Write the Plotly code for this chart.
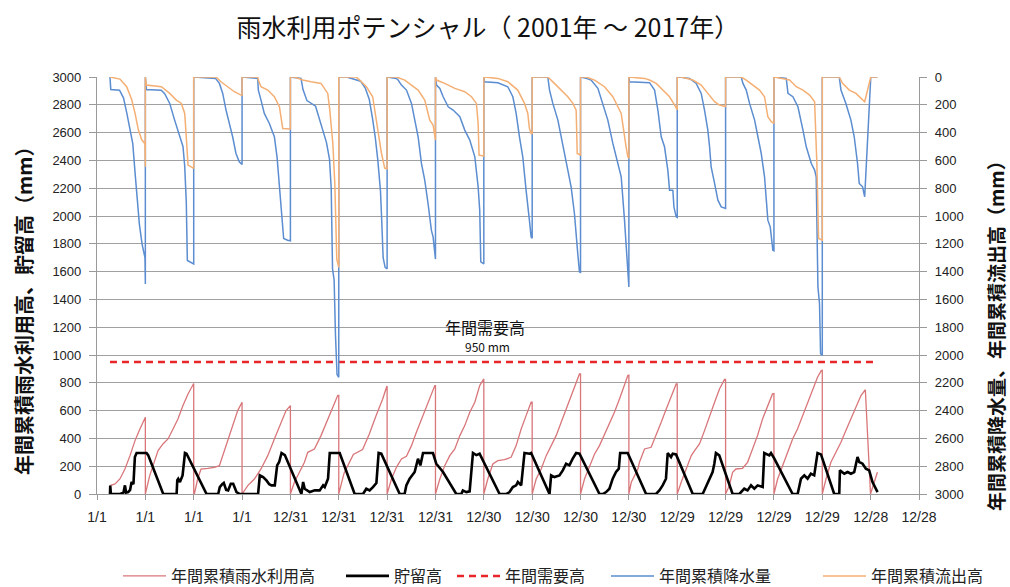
import datetime as dt
import plotly.graph_objects as go

# ---------------- data ----------------
BASE = dt.date(2001, 1, 1)
CYCLE_DAYS = 365          # each plotted year cycle / axis tick step
N_TICKS = 18

tick_labels = ["1/1", "1/1", "1/1", "1/1", "12/31", "12/31", "12/31", "12/31",
               "12/30", "12/30", "12/30", "12/30", "12/29", "12/29", "12/29", "12/29",
               "12/28", "12/28"]

# 年間累積降水量 (right axis, mm) : day-in-cycle / value per cycle
rain_days = [
    [98, 104, 170, 200, 225, 250, 270, 290, 305, 320, 340, 355, 362, 365],
    [0, 8, 120, 146, 184, 221, 259, 284, 297, 309, 317, 347, 365],
    [0, 165, 194, 219, 244, 269, 294, 319, 344, 365],
    [0, 118, 123, 143, 168, 206, 244, 264, 282, 299, 314, 344, 365],
    [0, 80, 95, 125, 190, 235, 272, 295, 308, 318, 330, 340, 352, 365],
    [0, 60, 165, 200, 230, 255, 275, 295, 315, 325, 335, 350, 365],
    [0, 70, 83, 108, 146, 184, 209, 234, 259, 284, 309, 334, 347, 360, 365],
    [0, 8, 33, 58, 96, 133, 184, 221, 259, 297, 322, 334, 342, 360, 365],
    [0, 5, 106, 181, 219, 244, 269, 294, 319, 332, 344, 357, 365],
    [0, 118, 131, 156, 194, 231, 269, 294, 319, 344, 357, 365],
    [0, 43, 80, 131, 168, 206, 244, 282, 307, 332, 352, 362, 365],
    [0, 5, 156, 194, 219, 244, 269, 294, 307, 332, 340, 357, 365],
    [0, 30, 93, 143, 181, 206, 231, 244, 256, 282, 307, 332, 357, 365],
    [0, 118, 131, 156, 181, 219, 244, 269, 294, 307, 319, 337, 357, 365],
    [0, 5, 93, 106, 143, 181, 219, 244, 282, 307, 319, 332, 344, 352, 365],
    [0, 128, 141, 178, 216, 241, 266, 279, 304, 320, 366, 416],
]
rain_vals = [
    [0, 90, 95, 150, 260, 380, 480, 720, 880, 1060, 1200, 1260, 1300, 1490],
    [0, 90, 95, 120, 190, 310, 430, 500, 640, 900, 1320, 1335, 1345],
    [0, 10, 46, 118, 238, 334, 430, 550, 610, 630],
    [0, 10, 94, 166, 262, 334, 430, 574, 790, 958, 1162, 1174, 1178],
    [0, 10, 90, 170, 210, 350, 470, 590, 800, 1380, 1460, 1850, 2140, 2160],
    [0, 0, 30, 80, 160, 300, 430, 600, 820, 1050, 1300, 1370, 1380],
    [0, 10, 22, 58, 94, 190, 310, 430, 622, 742, 910, 1102, 1150, 1306, 1310],
    [0, 58, 82, 142, 214, 238, 286, 382, 454, 574, 790, 958, 1330, 1342, 1345],
    [0, 34, 41, 70, 142, 262, 430, 574, 814, 958, 1030, 1150, 1160],
    [0, 0, 94, 190, 310, 502, 670, 790, 982, 1270, 1402, 1405],
    [0, 10, 22, 82, 190, 310, 478, 622, 718, 1030, 1318, 1500, 1510],
    [0, 34, 41, 94, 238, 430, 502, 670, 814, 814, 934, 1006, 1010],
    [0, 2, 10, 46, 118, 238, 382, 502, 646, 766, 886, 934, 946, 946],
    [0, 0, 46, 94, 190, 310, 430, 550, 718, 862, 1030, 1078, 1246, 1250],
    [0, 0, 10, 118, 142, 214, 382, 502, 622, 670, 718, 1510, 1630, 1990, 2002],
    [0, 0, 94, 190, 310, 430, 622, 766, 790, 862, 0, 0],
]

# 年間累積流出高 (right axis, mm)
runoff_days = [
    [98, 173, 224, 261, 287, 312, 337, 354, 362, 365],
    [0, 8, 121, 184, 234, 272, 297, 309, 322, 365],
    [0, 168, 206, 256, 307, 357, 365],
    [0, 118, 123, 143, 194, 244, 282, 307, 365],
    [0, 30, 93, 156, 231, 282, 297, 320, 335, 350, 365],
    [0, 130, 158, 209, 256, 294, 322, 347, 365],
    [0, 70, 133, 184, 234, 284, 322, 347, 360, 365],
    [0, 8, 70, 146, 221, 272, 309, 322, 329, 360, 365],
    [0, 5, 106, 181, 256, 307, 332, 344, 357, 365],
    [0, 118, 168, 219, 269, 307, 332, 340, 357, 365],
    [0, 43, 106, 181, 244, 307, 344, 357, 365],
    [0, 118, 156, 206, 257, 307, 345, 362, 365],
    [0, 30, 118, 181, 231, 282, 319, 357, 365],
    [0, 118, 156, 206, 256, 294, 319, 345, 365],
    [0, 5, 118, 168, 219, 269, 307, 324, 337, 365],
    [0, 128, 153, 204, 254, 292, 320, 366, 416],
]
runoff_vals = [
    [0, 15, 70, 160, 260, 380, 450, 477, 480, 646],
    [0, 58, 70, 118, 166, 190, 262, 430, 634, 658],
    [0, 0, 34, 70, 106, 130, 130],
    [0, 0, 22, 70, 94, 142, 214, 370, 374],
    [0, 0, 22, 34, 46, 118, 237, 475, 762, 1310, 1370],
    [0, 0, 22, 70, 142, 357, 547, 655, 660],
    [0, 0, 22, 58, 94, 166, 310, 346, 454, 454],
    [0, 22, 46, 82, 106, 142, 190, 334, 562, 569, 569],
    [0, 0, 10, 34, 94, 190, 262, 370, 406, 406],
    [0, 0, 46, 94, 142, 190, 238, 550, 561, 561],
    [0, 0, 22, 70, 142, 262, 502, 574, 585],
    [0, 10, 22, 46, 94, 142, 202, 233, 235],
    [0, 0, 22, 58, 118, 178, 202, 209, 212],
    [0, 0, 22, 58, 94, 142, 286, 322, 334],
    [0, 0, 22, 70, 94, 130, 178, 622, 1162, 1174],
    [0, 0, 46, 94, 118, 154, 178, 0, 0],
]

# 年間累積雨水利用高 (left axis, mm)
use_days = [
    [98, 136, 173, 211, 249, 287, 324, 362, 365],
    [0, 33, 58, 96, 133, 171, 209, 246, 284, 322, 365],
    [0, 5, 30, 55, 106, 156, 194, 219, 256, 294, 332, 365],
    [0, 43, 93, 143, 194, 244, 294, 332, 365],
    [0, 30, 68, 106, 131, 181, 231, 282, 332, 357, 365],
    [0, 40, 80, 110, 180, 230, 280, 330, 362, 365],
    [0, 33, 70, 108, 146, 184, 221, 259, 297, 334, 360, 365],
    [0, 33, 70, 108, 146, 184, 221, 259, 297, 334, 360, 365],
    [0, 30, 68, 106, 156, 206, 244, 282, 319, 357, 365],
    [0, 30, 68, 106, 143, 181, 219, 256, 294, 332, 357, 365],
    [0, 30, 68, 106, 143, 181, 219, 256, 294, 332, 357, 365],
    [0, 18, 68, 80, 118, 168, 206, 244, 282, 319, 357, 365],
    [0, 30, 68, 106, 131, 168, 206, 244, 282, 319, 357, 365],
    [0, 28, 53, 78, 128, 166, 204, 241, 279, 317, 354, 365],
    [0, 28, 65, 103, 141, 178, 216, 254, 292, 329, 357, 365],
    [0, 28, 65, 103, 141, 178, 216, 254, 292, 325, 364, 416],
]
use_vals = [
    [60, 72, 108, 180, 276, 384, 468, 552, 552],
    [0, 132, 204, 312, 360, 396, 468, 540, 636, 720, 795],
    [0, 0, 108, 180, 185, 192, 204, 276, 372, 492, 600, 660],
    [0, 60, 108, 180, 276, 396, 516, 600, 636],
    [0, 84, 156, 228, 300, 324, 420, 540, 660, 708, 710],
    [0, 150, 230, 285, 320, 430, 560, 680, 772, 775],
    [0, 108, 192, 252, 271, 348, 444, 540, 636, 720, 780, 780],
    [0, 108, 204, 276, 324, 420, 492, 588, 660, 780, 828, 828],
    [0, 108, 216, 240, 247, 264, 348, 468, 564, 660, 660],
    [0, 108, 180, 276, 348, 420, 516, 612, 708, 804, 864, 864],
    [0, 108, 204, 288, 348, 432, 504, 588, 684, 780, 852, 855],
    [0, 84, 180, 228, 324, 336, 420, 516, 612, 696, 792, 792],
    [0, 84, 180, 276, 312, 360, 456, 564, 660, 756, 825, 825],
    [0, 60, 156, 180, 185, 228, 324, 420, 540, 636, 720, 722],
    [0, 108, 204, 300, 396, 468, 564, 660, 756, 840, 888, 890],
    [0, 108, 228, 300, 372, 456, 540, 636, 708, 750, 0, 156],
]

# 貯留高 (left axis, mm) : days since 2001-01-01 / value
storage_days = [
    98, 100, 105, 173, 200, 211, 220, 236, 250, 261, 275, 286, 299, 374, 387, 500,
    601, 606, 613, 626, 646, 664, 676, 827,
    915, 927, 945, 957, 975, 990, 1010, 1028, 1053, 1078,
    1216, 1229, 1254, 1279, 1300, 1317, 1342, 1360, 1375, 1393, 1418, 1543,
    1556, 1568, 1606, 1644, 1681, 1707, 1719, 1744, 1757, 1832, 1945,
    2008, 2033, 2058, 2083, 2109, 2126, 2146, 2285,
    2322, 2335, 2360, 2398, 2423, 2441, 2461, 2536, 2561, 2612, 2712,
    2750, 2762, 2788, 2813, 2838, 2863, 2888, 3039,
    3089, 3114, 3139, 3164, 3177, 3202, 3227, 3265, 3277, 3416,
    3428, 3453, 3491, 3516, 3541, 3566, 3591, 3617, 3642, 3793,
    3818, 3843, 3868, 3893, 3918, 3939, 3949, 4006, 4145,
    4220, 4245, 4270, 4295, 4308, 4333, 4346, 4371, 4497,
    4572, 4597, 4622, 4647, 4660, 4672, 4697, 4798,
    4849, 4861, 4886, 4911, 4937, 4962, 4987, 5025, 5037, 5075, 5088, 5113, 5251,
    5289, 5314, 5339, 5364, 5389, 5414, 5439, 5465, 5565,
    5603, 5608, 5641, 5666, 5691, 5716, 5741, 5754, 5779, 5804, 5829, 5854, 5892,
]
storage_vals = [
    0, 60, 0, 0, 10, 62, 10, 14, 30, 86, 70, 266, 295, 295, 278, 0,
    0, 100, 110, 86, 134, 295, 290, 0,
    0, 50, 70, 79, 30, 26, 74, 74, 14, 0,
    0, 134, 122, 98, 70, 62, 62, 206, 230, 295, 280, 0,
    86, 38, 14, 26, 26, 62, 50, 110, 295, 295, 0,
    0, 38, 26, 50, 79, 295, 290, 0,
    0, 62, 110, 158, 254, 206, 295, 295, 218, 158, 0,
    0, 26, 14, 19, 295, 280, 290, 0,
    0, 14, 50, 62, 86, 62, 295, 290, 295, 0,
    134, 122, 134, 170, 218, 206, 254, 295, 290, 0,
    0, 14, 38, 110, 158, 182, 295, 295, 0,
    0, 26, 62, 110, 295, 266, 290, 285, 0,
    0, 50, 110, 158, 218, 295, 278, 0,
    0, 14, 38, 26, 62, 38, 62, 50, 295, 278, 295, 254, 0,
    0, 110, 134, 110, 146, 134, 295, 285, 0,
    0, 170, 146, 158, 146, 158, 266, 230, 218, 182, 170, 86, 14,
]

annual_demand = 950  # 年間需要高 (mm)

series_names = ["年間累積雨水利用高", "貯留高", "年間需要高", "年間累積降水量", "年間累積流出高"]

# ---------------- build series ----------------
def cycle_series(days_list, vals_list):
    xs, ys = [], []
    for k, (ds, vs) in enumerate(zip(days_list, vals_list)):
        for d, v in zip(ds, vs):
            xs.append(BASE + dt.timedelta(days=k * CYCLE_DAYS + d))
            ys.append(v)
    return xs, ys

rain_x, rain_y = cycle_series(rain_days, rain_vals)
runoff_x, runoff_y = cycle_series(runoff_days, runoff_vals)
use_x, use_y = cycle_series(use_days, use_vals)
stor_x = [BASE + dt.timedelta(days=d) for d in storage_days]
stor_y = storage_vals
demand_x = [stor_x[0], stor_x[-1]]
demand_y = [annual_demand, annual_demand]

tick_vals = [BASE + dt.timedelta(days=k * CYCLE_DAYS) for k in range(N_TICKS)]

JP = "Noto Sans CJK JP"
NUM = "Liberation Sans, Noto Sans CJK JP"

# plot area in pixels: x 97..919, y 77..494
PL, PR, PT, PB = 97, 919, 77, 494
def px_x(p):
    return (p - PL) / (PR - PL)
def px_y(p):
    return (PB - p) / (PB - PT)

fig = go.Figure()
fig.add_trace(go.Scatter(x=use_x, y=use_y, mode="lines", name=series_names[0],
                         legend="legend",
                         line=dict(color="#D9767A", width=1.3)))
fig.add_trace(go.Scatter(x=stor_x, y=stor_y, mode="lines", name=series_names[1],
                         legend="legend2",
                         line=dict(color="#000000", width=2.6)))
fig.add_trace(go.Scatter(x=demand_x, y=demand_y, mode="lines", name=series_names[2],
                         legend="legend3",
                         line=dict(color="#E8262A", width=2.5, dash="7px,5px")))
fig.add_trace(go.Scatter(x=rain_x, y=rain_y, mode="lines", name=series_names[3],
                         legend="legend4",
                         yaxis="y2", line=dict(color="#5B8DD0", width=1.5)))
fig.add_trace(go.Scatter(x=runoff_x, y=runoff_y, mode="lines", name=series_names[4],
                         legend="legend5",
                         yaxis="y2", line=dict(color="#F4AF74", width=1.5)))

legend_left_px = [118, 341, 452, 606, 818]
def legend_box(p):
    return dict(orientation="h", x=px_x(p), xanchor="left", y=px_y(576), yanchor="middle",
                font=dict(family=JP, size=16, color="#222222"),
                itemwidth=43,
                bgcolor="rgba(0,0,0,0)", borderwidth=0)

fig.update_layout(
    width=1010, height=587,
    margin=dict(l=PL, r=1010 - PR, t=PT, b=587 - PB, autoexpand=False),
    paper_bgcolor="white", plot_bgcolor="white",
    font=dict(family=JP, color="#222222"),
    title=dict(text="雨水利用ポテンシャル（ 2001年 ～ 2017年）",
               x=0.483, xanchor="center", y=1 - 28 / 587, yanchor="middle",
               font=dict(family=JP, size=25, color="#111111")),
    xaxis=dict(
        type="date",
        range=[tick_vals[0], tick_vals[-1]],
        tickvals=tick_vals, ticktext=tick_labels,
        showgrid=False, zeroline=False,
        showline=True, linecolor="#9A9A9A", linewidth=1.2,
        ticks="outside", ticklen=5, tickcolor="#9A9A9A",
        tickfont=dict(family=NUM, size=14, color="#222222"),
        ticklabelstandoff=5,
    ),
    yaxis=dict(
        range=[0, 3000], dtick=200, tick0=0,
        showgrid=True, gridcolor="#A0A0A0", gridwidth=1.2,
        zeroline=False,
        showline=True, linecolor="#9A9A9A", linewidth=1.2,
        ticks="outside", ticklen=7, tickcolor="#9A9A9A",
        tickfont=dict(family=NUM, size=13, color="#222222"),
        ticklabelstandoff=5,
    ),
    yaxis2=dict(
        overlaying="y", side="right",
        range=[3000, 0], dtick=200, tick0=0,
        showgrid=False, zeroline=False,
        showline=True, linecolor="#9A9A9A", linewidth=1.2,
        ticks="outside", ticklen=7, tickcolor="#9A9A9A",
        tickfont=dict(family=NUM, size=13, color="#222222"),
        ticklabelstandoff=5,
    ),
    legend=legend_box(legend_left_px[0]),
    legend2=legend_box(legend_left_px[1]),
    legend3=legend_box(legend_left_px[2]),
    legend4=legend_box(legend_left_px[3]),
    legend5=legend_box(legend_left_px[4]),
    showlegend=True,
    annotations=[
        dict(text="年間累積雨水利用高、貯留高（mm）", textangle=-90,
             xref="paper", yref="paper", x=px_x(23), y=px_y(306),
             xanchor="center", yanchor="middle", showarrow=False,
             font=dict(family=JP, size=20, color="#111111", weight="bold")),
        dict(text="年間累積降水量、年間累積流出高（mm）", textangle=-90,
             xref="paper", yref="paper", x=px_x(995), y=px_y(331),
             xanchor="center", yanchor="middle", showarrow=False,
             font=dict(family=JP, size=19, color="#111111", weight="bold")),
        dict(text="年間需要高", xref="paper", yref="paper", x=px_x(485), y=px_y(327),
             xanchor="center", yanchor="middle", showarrow=False,
             font=dict(family=JP, size=16, color="#111111")),
        dict(text="950 mm", xref="paper", yref="paper", x=px_x(487), y=px_y(346),
             xanchor="center", yanchor="middle", showarrow=False,
             font=dict(family=JP, size=12, color="#111111")),
    ],
)

fig.write_html("out.html")
